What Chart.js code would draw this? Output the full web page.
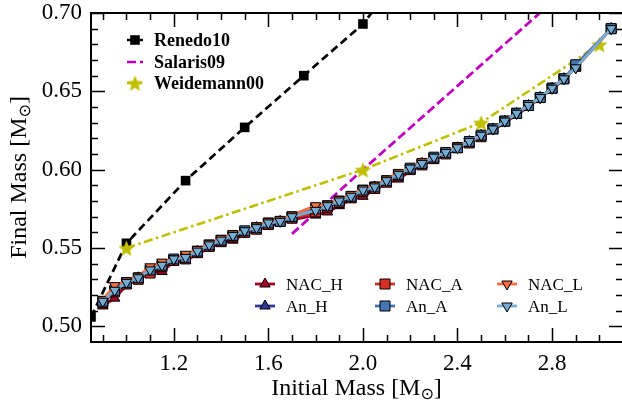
<!DOCTYPE html>
<html>
<head>
<meta charset="utf-8">
<script src="https://cdn.jsdelivr.net/npm/chart.js@4.4.1/dist/chart.umd.min.js"></script>
<style>
  html, body { margin: 0; padding: 0; background: #fff; overflow: hidden; }
  canvas { display: block; }
</style>
</head>
<body>
<canvas id="ifmr" width="624" height="403"></canvas>
<script>
// model grid: initial masses (1.75, 2.95 and 3.00 are not in the figure)
const modelMass = [0.90, 0.95, 1.00, 1.05, 1.10, 1.15, 1.20, 1.25, 1.30, 1.35, 1.40, 1.45, 1.50, 1.55, 1.60, 1.65, 1.70,
  1.80, 1.85, 1.90, 1.95, 2.00, 2.05, 2.10, 2.15, 2.20, 2.25, 2.30, 2.35, 2.40, 2.45, 2.50, 2.55, 2.60, 2.65, 2.70, 2.75,
  2.80, 2.85, 2.90, 3.05];

// final masses per model
const nacH = [0.513, 0.518, 0.526, 0.530, 0.534, 0.535, 0.541, 0.542, 0.546, 0.550, 0.553, 0.555, 0.559, 0.561, 0.564, 0.566, 0.568,
  0.571, 0.573, 0.577, 0.581, 0.583, 0.587, 0.591, 0.594, 0.599, 0.603, 0.606, 0.610, 0.613, 0.617, 0.621, 0.625, 0.630, 0.635, 0.640, 0.646,
  0.651, 0.658, 0.665, 0.690];
const nacA = [0.515, 0.522, 0.527, 0.530, 0.534, 0.538, 0.542, 0.543, 0.547, 0.551, 0.554, 0.557, 0.560, 0.562, 0.565, 0.567, 0.569,
  0.573, 0.576, 0.579, 0.582, 0.586, 0.588, 0.592, 0.596, 0.600, 0.603, 0.607, 0.610, 0.614, 0.617, 0.621, 0.626, 0.631, 0.636, 0.641, 0.646,
  0.652, 0.658, 0.666, 0.690];
const nacL = [0.517, 0.526, 0.529, 0.532, 0.538, 0.541, 0.543, 0.546, 0.549, 0.553, 0.556, 0.559, 0.561, 0.564, 0.567, 0.568, 0.571,
  0.577, 0.578, 0.581, 0.584, 0.588, 0.590, 0.594, 0.598, 0.601, 0.605, 0.608, 0.611, 0.615, 0.618, 0.622, 0.626, 0.631, 0.636, 0.641, 0.646,
  0.652, 0.658, 0.665, 0.690];
const anH = [0.515, 0.522, 0.527, 0.531, 0.535, 0.538, 0.542, 0.544, 0.548, 0.551, 0.554, 0.557, 0.560, 0.563, 0.565, 0.567, 0.569,
  0.573, 0.576, 0.579, 0.582, 0.586, 0.589, 0.592, 0.596, 0.600, 0.604, 0.607, 0.610, 0.614, 0.618, 0.622, 0.626, 0.631, 0.636, 0.641, 0.646,
  0.652, 0.658, 0.665, 0.690];
const anA = [0.516, 0.523, 0.528, 0.531, 0.536, 0.539, 0.543, 0.544, 0.548, 0.552, 0.555, 0.558, 0.561, 0.563, 0.566, 0.567, 0.570,
  0.575, 0.577, 0.580, 0.583, 0.587, 0.589, 0.593, 0.597, 0.601, 0.604, 0.608, 0.611, 0.614, 0.618, 0.622, 0.626, 0.631, 0.636, 0.641, 0.646,
  0.652, 0.658, 0.667, 0.690];
const anL = [0.516, 0.523, 0.528, 0.531, 0.536, 0.539, 0.543, 0.544, 0.548, 0.552, 0.555, 0.558, 0.561, 0.563, 0.566, 0.567, 0.570,
  0.574, 0.577, 0.580, 0.583, 0.587, 0.589, 0.593, 0.597, 0.601, 0.604, 0.608, 0.611, 0.614, 0.618, 0.622, 0.626, 0.631, 0.636, 0.641, 0.646,
  0.652, 0.658, 0.665, 0.690];

// literature relations
const renedoMass = [0.85, 1.00, 1.25, 1.50, 1.75, 2.00, 2.25];
const renedoFinal = [0.506, 0.553, 0.593, 0.627, 0.660, 0.693, 0.741];
const salarisMass = [1.70, 2.00, 3.10];
const salarisFinal = [0.559, 0.600, 0.747];
const weidemannMass = [1.00, 2.00, 2.50, 3.00];
const weidemannFinal = [0.550, 0.600, 0.630, 0.680];

// axes
const xTickValues = [1.2, 1.6, 2.0, 2.4, 2.8];
const xMinorTicks = [0.9, 1.0, 1.1, 1.3, 1.4, 1.5, 1.7, 1.8, 1.9, 2.1, 2.2, 2.3, 2.5, 2.6, 2.7, 2.9, 3.0];
const yTickValues = [0.50, 0.55, 0.60, 0.65, 0.70];
const yMinorTicks = [0.51, 0.52, 0.53, 0.54, 0.56, 0.57, 0.58, 0.59, 0.61, 0.62, 0.63, 0.64, 0.66, 0.67, 0.68, 0.69];

const SERIF = '"Liberation Serif", "DejaVu Serif", serif';
const YELLOW = '#bfbf00';
const MAGENTA = '#bf00bf';
const DASH = [8, 4.5];
const DASH_MAG = [9, 4];
const DASH_DOT = [9, 3.5, 2.5, 3.5];

const toPoints = (xs, ys) => xs.map((x, i) => ({ x: x, y: ys[i] }));

// filled five-point star, used as point style
function makeStar(color, outer, inner) {
    const c = document.createElement('canvas');
    const size = Math.ceil(outer * 2 + 2);
    c.width = size;
    c.height = size;
    const g = c.getContext('2d');
    g.beginPath();
    for (let i = 0; i < 10; i++) {
        const r = i % 2 === 0 ? outer : inner;
        const a = -Math.PI / 2 + i * Math.PI / 5;
        g.lineTo(size / 2 + r * Math.cos(a), size / 2 + 1 + r * Math.sin(a));
    }
    g.closePath();
    g.fillStyle = color;
    g.fill();
    return c;
}
const starImg = makeStar(YELLOW, 8.5, 3.8);

function modelSet(label, values, color, marker, order) {
    return {
        label: label,
        data: toPoints(modelMass, values),
        order: order,
        borderColor: color,
        backgroundColor: color,
        borderWidth: 2.8,
        pointStyle: marker === 's' ? 'rect' : 'triangle',
        pointRotation: marker === 'v' ? 180 : 0,
        pointRadius: marker === 's' ? 7 : 6,
        pointBackgroundColor: color,
        pointBorderColor: '#000',
        pointBorderWidth: 1,
        clip: 0
    };
}

const datasets = [
    modelSet('NAC_H', nacH, '#a50026', '^', 5),
    modelSet('An_H', anH, '#313695', '^', 4),
    modelSet('NAC_A', nacA, '#d73027', 's', 3),
    modelSet('An_A', anA, '#4575b4', 's', 2),
    modelSet('NAC_L', nacL, '#f46d43', 'v', 1),
    modelSet('An_L', anL, '#74add1', 'v', 0),
    {
        label: 'Renedo10', data: toPoints(renedoMass, renedoFinal), order: 8,
        borderColor: '#000', backgroundColor: '#000', borderWidth: 2.7, borderDash: DASH,
        pointStyle: 'rect', pointRadius: 6.8, pointBorderWidth: 0, clip: 0
    },
    {
        label: 'Salaris09', data: toPoints(salarisMass, salarisFinal), order: 7,
        borderColor: MAGENTA, borderWidth: 2.8, borderDash: DASH_MAG, pointRadius: 0, clip: 0
    },
    {
        label: 'Weidemann00', data: toPoints(weidemannMass, weidemannFinal), order: 6,
        borderColor: YELLOW, backgroundColor: YELLOW, borderWidth: 2.6, borderDash: DASH_DOT,
        pointStyle: starImg, pointRadius: 8, clip: 0
    }
];

// legend placement (pixels), two separate boxes like the original
const legendItems = [
    { label: 'Renedo10', marker: 'sq', color: '#000', dash: DASH, x: 127, len: 16, y: 40, bold: true },
    { label: 'Salaris09', marker: null, color: MAGENTA, dash: DASH_MAG, x: 127, len: 16, y: 62, bold: true },
    { label: 'Weidemann00', marker: 'star', color: YELLOW, dash: DASH_DOT, x: 127, len: 16, y: 83, bold: true },
    { label: 'NAC_H', marker: '^', color: '#a50026', x: 255, len: 20, y: 284 },
    { label: 'An_H', marker: '^', color: '#313695', x: 255, len: 20, y: 306 },
    { label: 'NAC_A', marker: 's', color: '#d73027', x: 375, len: 20, y: 284 },
    { label: 'An_A', marker: 's', color: '#4575b4', x: 375, len: 20, y: 306 },
    { label: 'NAC_L', marker: 'v', color: '#f46d43', x: 497, len: 20, y: 284 },
    { label: 'An_L', marker: 'v', color: '#74add1', x: 497, len: 20, y: 306 }
];

function drawMarker(ctx, kind, x, y, color) {
    if (kind === 'star') {
        ctx.drawImage(starImg, x - starImg.width / 2, y - starImg.height / 2);
        return;
    }
    ctx.beginPath();
    if (kind === 's' || kind === 'sq') {
        const h = kind === 'sq' ? 4.8 : 5;
        ctx.rect(x - h, y - h, 2 * h, 2 * h);
    } else {
        const r = 6;
        const d = kind === 'v' ? -1 : 1;
        ctx.moveTo(x, y - d * r);
        ctx.lineTo(x + 0.866 * r, y + d * 0.5 * r);
        ctx.lineTo(x - 0.866 * r, y + d * 0.5 * r);
        ctx.closePath();
    }
    ctx.fillStyle = color;
    ctx.fill();
    if (kind !== 'sq') {
        ctx.lineWidth = 1;
        ctx.strokeStyle = '#000';
        ctx.stroke();
    }
}

// writes "prefix [M_sun]" centred at (cx, cy), optionally rotated
function drawMassTitle(ctx, prefix, cx, cy, rotate) {
    const big = '24px ' + SERIF;
    const small = '16px "DejaVu Sans", sans-serif';
    ctx.save();
    ctx.translate(cx, cy);
    if (rotate) ctx.rotate(-Math.PI / 2);
    ctx.fillStyle = '#000';
    ctx.textBaseline = 'alphabetic';
    ctx.font = big;
    const w1 = ctx.measureText(prefix + ' [M').width;
    const w3 = ctx.measureText(']').width;
    ctx.font = small;
    const w2 = ctx.measureText('\u2299').width;
    let x = -(w1 + w2 + w3) / 2;
    const base = 8;
    ctx.font = big;
    ctx.fillText(prefix + ' [M', x, base);
    x += w1;
    ctx.font = small;
    ctx.fillText('\u2299', x, base + 4);
    x += w2;
    ctx.font = big;
    ctx.fillText(']', x, base);
    ctx.restore();
}

const decorations = {
    id: 'decorations',
    afterDraw(chart) {
        const { ctx, chartArea: a, scales } = chart;
        const sx = scales.x, sy = scales.y;
        ctx.save();

        // inward tick marks on all four sides
        ctx.strokeStyle = '#000';
        ctx.lineWidth = 1.5;
        const xMarks = (vals, len) => vals.forEach(v => {
            const px = Math.round(sx.getPixelForValue(v)) + 0.5;
            ctx.beginPath();
            ctx.moveTo(px, a.bottom); ctx.lineTo(px, a.bottom - len);
            ctx.moveTo(px, a.top); ctx.lineTo(px, a.top + len);
            ctx.stroke();
        });
        const yMarks = (vals, len) => vals.forEach(v => {
            const py = Math.round(sy.getPixelForValue(v)) + 0.5;
            ctx.beginPath();
            ctx.moveTo(a.left, py); ctx.lineTo(a.left + len, py);
            ctx.moveTo(a.right, py); ctx.lineTo(a.right - len, py);
            ctx.stroke();
        });
        xMarks(xTickValues, 14);
        xMarks(xMinorTicks, 7);
        yMarks(yTickValues, 14);
        yMarks(yMinorTicks, 7);

        ctx.lineWidth = 2;
        ctx.strokeRect(a.left, a.top, a.right - a.left, a.bottom - a.top);

        // legends
        legendItems.forEach(item => {
            ctx.save();
            const cx = item.x + item.len / 2;
            ctx.strokeStyle = item.color;
            ctx.lineWidth = item.dash ? 2.6 : 2.8;
            ctx.setLineDash(item.dash || []);
            ctx.beginPath();
            ctx.moveTo(item.x, item.y);
            ctx.lineTo(item.x + item.len, item.y);
            ctx.stroke();
            ctx.setLineDash([]);
            if (item.marker) drawMarker(ctx, item.marker, cx, item.y, item.color);
            ctx.fillStyle = '#000';
            ctx.textBaseline = 'alphabetic';
            ctx.font = item.bold ? 'bold 18px ' + SERIF : '17px ' + SERIF;
            ctx.fillText(item.label, item.x + item.len + 11, item.y + 6);
            ctx.restore();
        });

        // axis titles
        drawMassTitle(ctx, 'Initial Mass', (a.left + 622) / 2, 387, false);
        drawMassTitle(ctx, 'Final Mass', 18, (a.top + a.bottom) / 2, true);

        ctx.restore();
    }
};

new Chart(document.getElementById('ifmr'), {
    type: 'line',
    data: { datasets: datasets },
    options: {
        responsive: false,
        animation: false,
        devicePixelRatio: 1,
        layout: { autoPadding: false, padding: { top: 13, right: 1, left: 0, bottom: 0 } },
        plugins: { legend: { display: false }, tooltip: { enabled: false } },
        scales: {
            x: {
                type: 'linear', min: 0.85, max: 3.1,
                grid: { display: false, drawTicks: false },
                border: { display: false },
                afterBuildTicks: s => { s.ticks = xTickValues.map(v => ({ value: v })); },
                afterFit: s => { s.height = 61; s.paddingLeft = 0; s.paddingRight = 0; },
                ticks: {
                    color: '#000', padding: 10, maxRotation: 0,
                    font: { family: SERIF, size: 23, lineHeight: 1 },
                    callback: v => v.toFixed(1)
                }
            },
            y: {
                type: 'linear', min: 0.49, max: 0.70,
                grid: { display: false, drawTicks: false },
                border: { display: false },
                afterBuildTicks: s => { s.ticks = yTickValues.map(v => ({ value: v })); },
                afterFit: s => { s.width = 91; s.paddingTop = 0; s.paddingBottom = 0; },
                ticks: {
                    color: '#000', padding: 9,
                    font: { family: SERIF, size: 23, lineHeight: 1 },
                    callback: v => v.toFixed(2)
                }
            }
        }
    },
    plugins: [decorations]
});
</script>
</body>
</html>
